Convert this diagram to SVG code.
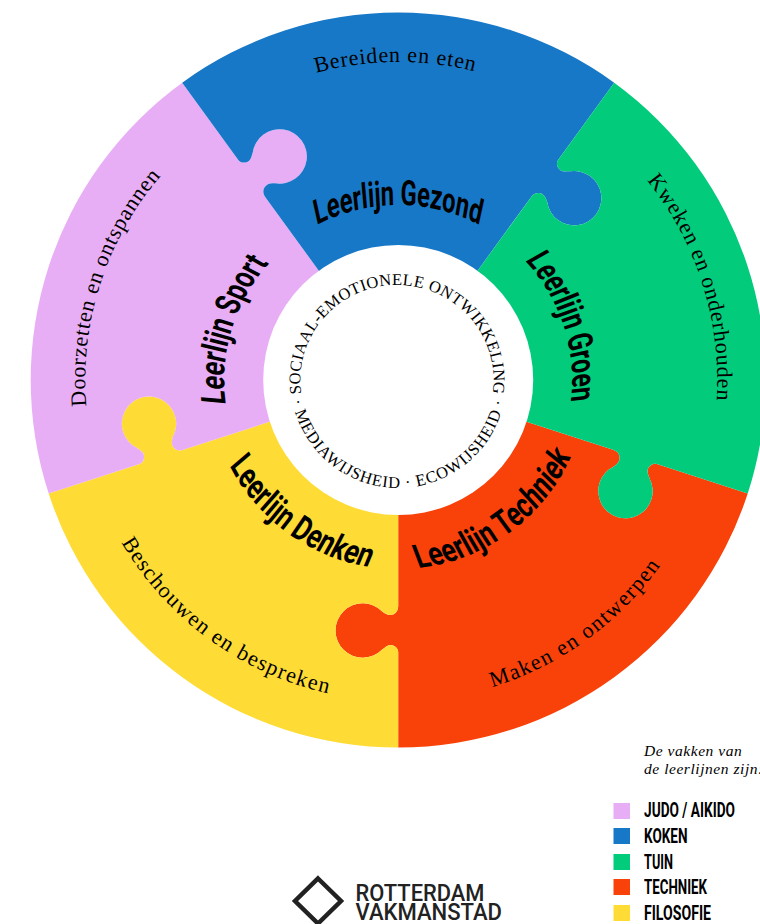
<svg xmlns="http://www.w3.org/2000/svg" width="760" height="924" viewBox="0 0 760 924">
<style>
text{fill:#000}
.s{font-family:"Liberation Serif","DejaVu Serif",serif;font-size:22px;letter-spacing:.8px;text-anchor:middle}
.r{font-family:"Liberation Serif","DejaVu Serif",serif;font-size:16.5px;letter-spacing:.4px;text-anchor:middle}
.b{font-family:"Roboto",sans-serif;font-weight:700;font-size:35px;text-anchor:middle}
.l{font-family:"Roboto",sans-serif;font-weight:700;font-size:20px}
.i{font-family:"Liberation Serif","DejaVu Serif",serif;font-style:italic;font-size:15.5px;letter-spacing:.55px}
.v{font-family:"Roboto","Liberation Sans",sans-serif;font-weight:500;font-size:24px;fill:#222}
</style>
<defs>
<path id="wedge" d="M0,0 L0,226 C0,232 -4,235 -8,235 C-11,235 -13,233.5 -16,231.5 A27.2,27.2 0 1 0 -16,269.5 C-13,267.5 -11,265 -8,265 C-4,265 0,268 0,272 L0,367.5 A367.5,367.5 0 0 0 349.5,113.56 L258.69,84.05 C254.88,82.82 250.79,85.69 249.56,89.5 C248.63,92.35 250.39,95.02 251.37,98.5 A27.2,27.2 0 1 1 215.23,86.76 C218.05,84.52 220.1,83.08 221.03,80.23 C222.26,76.42 220.65,71.69 214.94,69.84 Z"/>
<path id="e175" d="M0,175 A257.35,175 0 1 1 0,-175 A257.35,175 0 1 1 0,175"/>
<path id="e174" d="M0,174 A252,174 0 1 1 0,-174 A252,174 0 1 1 0,174"/>
<path id="e174b" d="M0,174 A245,174 0 1 1 0,-174 A245,174 0 1 1 0,174"/>
<path id="s189" d="M0,-189 A262.5,189 0 1 0 0,189 A262.5,189 0 1 0 0,-189"/>
<path id="o0" transform="translate(398.2 380) rotate(-.5)" d="M0,318 A318,318 0 1 1 0,-318 A318,318 0 1 1 0,318"/>
<path id="o1" transform="translate(398.2 380) rotate(72.5)" d="M0,319 A319,319 0 1 1 0,-319 A319,319 0 1 1 0,319"/>
<path id="o2" transform="translate(398.2 380) rotate(-72)" d="M0,313 A313,313 0 1 1 0,-313 A313,313 0 1 1 0,313"/>
<path id="o3" transform="translate(398.2 380) rotate(-36)" d="M0,-321 A321,321 0 1 0 0,321 A321,321 0 1 0 0,-321"/>
<path id="o4" transform="translate(398.2 380) rotate(36)" d="M0,-321 A321,321 0 1 0 0,321 A321,321 0 1 0 0,-321"/>
<path id="rt" d="M397,475 A96.5,95 0 1 1 397,285 A96.5,95 0 1 1 397,475"/>
<path id="rb" d="M398.2,272 A108,108 0 1 0 398.2,488 A108,108 0 1 0 398.2,272"/>
</defs>
<g id="node-techniek"><use href="#wedge" fill="#F8420A" transform="translate(398.2 380)"/><g transform="translate(398.2 380) rotate(-36) scale(.72 1)"><text class="b"><textPath href="#s189" startOffset="50%">Leerlijn Techniek</textPath></text></g><text class="s" style="letter-spacing:1.5px"><textPath href="#o3" startOffset="50%">Maken en ontwerpen</textPath></text></g>
<g id="node-denken"><use href="#wedge" fill="#FEDB35" transform="translate(398.2 380) rotate(72)"/><g transform="translate(398.2 380) rotate(36) scale(.72 1)"><text class="b"><textPath href="#s189" startOffset="50%">Leerlijn Denken</textPath></text></g><text class="s" style="letter-spacing:1.35px"><textPath href="#o4" startOffset="50%">Beschouwen en bespreken</textPath></text></g>
<g id="node-sport"><use href="#wedge" fill="#E8AEF5" transform="translate(398.2 380) rotate(144)"/><g transform="translate(398.2 380) rotate(-73) scale(.71 1)"><text class="b"><textPath href="#e174b" startOffset="50%">Leerlijn Sport</textPath></text></g><text class="s"><textPath href="#o2" startOffset="50%">Doorzetten en ontspannen</textPath></text></g>
<g id="node-gezond"><use href="#wedge" fill="#1878C8" transform="translate(398.2 380) rotate(216)"/><g transform="translate(398.2 380) scale(.68 1)"><text class="b"><textPath href="#e175" startOffset="50%">Leerlijn Gezond</textPath></text></g><text class="s"><textPath href="#o0" startOffset="50%">Bereiden en eten</textPath></text></g>
<g id="node-groen"><use href="#wedge" fill="#02CC7C" transform="translate(398.2 380) rotate(288)"/><g transform="translate(398.2 380) rotate(72) scale(.69 1)"><text class="b"><textPath href="#e174" startOffset="50%">Leerlijn Groen</textPath></text></g><text class="s"><textPath href="#o1" startOffset="50%">Kweken en onderhouden</textPath></text></g>
<g id="node-center"><circle cx="398.2" cy="380" r="135" fill="#fff"/>
<text class="r"><textPath href="#rt" startOffset="50%">SOCIAAL-EMOTIONELE ONTWIKKELING</textPath></text>
<text class="r" style="letter-spacing:.85px"><textPath href="#rb" startOffset="50%">· MEDIAWIJSHEID · ECOWIJSHEID ·</textPath></text></g>
<g id="connectors"/>
<g id="legend">
<text class="i" x="644" y="756">De vakken van</text><text class="i" x="644" y="774">de leerlijnen zijn:</text>
<rect x="613.5" y="803" width="16.5" height="16" fill="#E8AEF5"/><text class="l" x="644" y="817" textLength="91" lengthAdjust="spacingAndGlyphs">JUDO / AIKIDO</text>
<rect x="613.5" y="828" width="16.5" height="16" fill="#1878C8"/><text class="l" x="644" y="843" textLength="43.5" lengthAdjust="spacingAndGlyphs">KOKEN</text>
<rect x="613.5" y="854" width="16.5" height="16" fill="#02CC7C"/><text class="l" x="644" y="869" textLength="29" lengthAdjust="spacingAndGlyphs">TUIN</text>
<rect x="613.5" y="879" width="16.5" height="16" fill="#F8420A"/><text class="l" x="644" y="894" textLength="63" lengthAdjust="spacingAndGlyphs">TECHNIEK</text>
<rect x="613.5" y="905" width="16.5" height="16" fill="#FEDB35"/><text class="l" x="644" y="920" textLength="67" lengthAdjust="spacingAndGlyphs">FILOSOFIE</text>
</g>
<g id="logo">
<path d="M318,878.5 L341,901 L318,923.5 L295,901 Z" fill="none" stroke="#222" stroke-width="4.5"/>
<text class="v" x="355.5" y="900.5" textLength="129" lengthAdjust="spacingAndGlyphs">ROTTERDAM</text>
<text class="v" x="355.5" y="919.5" textLength="146.5" lengthAdjust="spacingAndGlyphs">VAKMANSTAD</text>
</g>
</svg>
